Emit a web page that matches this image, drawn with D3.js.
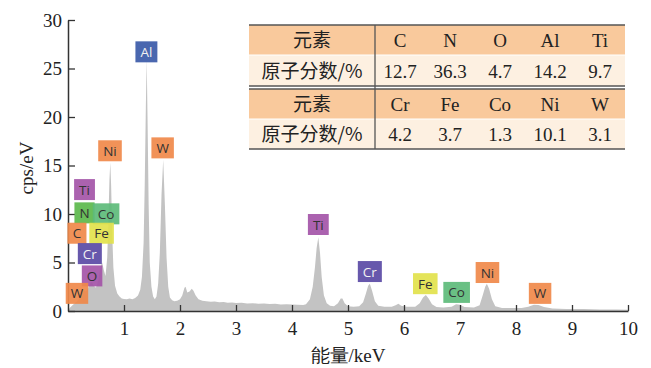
<!DOCTYPE html>
<html><head><meta charset="utf-8">
<script src="https://cdn.jsdelivr.net/npm/d3@7"></script>
<style>body{margin:0;background:#fff}svg{display:block}</style>
</head><body>
<svg id="c" width="651" height="368"></svg>
<script>
// Spectrum (energy keV, cps/eV)
const energy = [0.00,0.03,0.08,0.12,0.16,0.20,0.24,0.28,0.32,0.36,0.40,0.43,0.46,0.50,0.54,0.58,0.61,0.64,0.67,0.70,0.72,0.74,0.755,0.77,0.79,0.81,0.84,0.88,0.92,0.96,1.00,1.05,1.10,1.15,1.20,1.25,1.29,1.32,1.35,1.37,1.39,1.405,1.42,1.44,1.46,1.49,1.52,1.55,1.58,1.61,1.64,1.67,1.70,1.73,1.76,1.79,1.82,1.86,1.90,1.95,2.00,2.04,2.08,2.10,2.13,2.17,2.21,2.24,2.28,2.33,2.40,2.47,2.55,2.62,2.70,2.78,2.85,2.93,3.00,3.10,3.20,3.30,3.40,3.50,3.60,3.70,3.80,3.90,4.00,4.10,4.20,4.25,4.32,4.37,4.41,4.44,4.47,4.50,4.53,4.57,4.62,4.68,4.75,4.82,4.87,4.90,4.94,5.00,5.10,5.20,5.27,5.32,5.36,5.39,5.43,5.48,5.54,5.65,5.78,5.85,5.90,5.95,6.05,6.20,6.28,6.34,6.39,6.44,6.50,6.58,6.70,6.85,6.93,7.00,7.08,7.25,7.35,7.41,7.45,7.48,7.52,7.57,7.63,7.75,7.90,8.10,8.22,8.32,8.40,8.50,8.65,8.90,9.20,9.50,9.80,10.00];
const cps = [0.0,0.3,0.6,0.8,1.0,1.3,1.8,2.2,2.0,2.4,2.9,3.0,2.6,2.4,3.2,4.6,5.0,4.2,3.6,5.5,9.0,13.5,15.3,13.0,8.0,4.5,2.6,1.8,1.5,1.3,1.25,1.2,1.3,1.2,1.35,1.6,2.2,3.5,7.0,13.0,21.0,26.0,20.0,11.0,5.0,2.5,1.5,1.2,1.5,2.8,6.0,12.0,15.6,11.0,5.5,2.5,1.4,1.1,1.0,1.05,1.2,1.6,2.4,2.5,1.9,2.0,2.3,2.1,1.6,1.2,1.05,1.0,0.95,0.97,0.9,0.92,0.85,0.88,0.82,0.85,0.78,0.8,0.75,0.77,0.72,0.74,0.68,0.7,0.66,0.64,0.62,0.7,1.2,2.5,4.5,6.5,7.6,6.0,3.5,1.6,0.8,0.55,0.5,0.8,1.3,1.3,0.8,0.5,0.45,0.5,0.9,1.8,2.6,2.8,2.1,1.0,0.55,0.45,0.45,0.6,0.75,0.55,0.45,0.45,0.8,1.4,1.65,1.3,0.7,0.4,0.35,0.45,0.7,0.65,0.4,0.35,0.6,1.7,2.5,2.8,2.3,1.2,0.5,0.3,0.3,0.3,0.45,0.65,0.62,0.4,0.25,0.2,0.2,0.15,0.15,0.12];

// Peak labels: element, energy of box centre (keV), top of box (cps/eV), colour
const labelText  = ["Al","Ni","W","Ti","N","Co","C","Fe","Cr","O","W","Ti","Cr","Fe","Co","Ni","W"];
const labelX     = [1.40,0.75,1.69,0.295,0.295,0.68,0.16,0.60,0.39,0.43,0.16,4.47,5.39,6.38,6.94,7.49,8.43];
const labelTop   = [27.8,17.6,17.9,13.6,11.2,11.1,9.1,9.1,7.0,4.7,2.9,10.0,5.15,3.9,3.0,5.05,2.9];
const labelColor = ["#3b5aa8","#f0894a","#f0894a","#a455a8","#5cb84c","#5dbb7a","#f0894a","#e2e24c","#5a4aa5","#a455a8","#f0894a","#a455a8","#5a4aa5","#e2e24c","#5dbb7a","#f0894a","#f0894a"];

const xTicks = [1,2,3,4,5,6,7,8,9,10];
const yTicks = [0,5,10,15,20,25,30];

// Composition table
const tHead = "元素", tRow = "原子分数/%";
const elements1 = ["C","N","O","Al","Ti"];
const fraction1 = ["12.7","36.3","4.7","14.2","9.7"];
const elements2 = ["Cr","Fe","Co","Ni","W"];
const fraction2 = ["4.2","3.7","1.3","10.1","3.1"];

const svg = d3.select("#c");
const x = d3.scaleLinear().domain([0,10]).range([68,628]);
const y = d3.scaleLinear().domain([0,30]).range([311,20]);

// spectrum
const pts = energy.map((e,i)=>[e,cps[i]]);
svg.append("path").datum(pts)
  .attr("d", d3.area().x(d=>x(d[0])).y0(y(0)).y1(d=>y(d[1])))
  .attr("fill","#c3c3c3");

// axes
const serif = "'Liberation Serif','Times New Roman',serif";
const xa = svg.append("g").attr("transform","translate(0,311)")
  .call(d3.axisBottom(x).tickValues(xTicks).tickSizeInner(-6).tickSizeOuter(0).tickPadding(11).tickFormat(d3.format("d")));
const ya = svg.append("g").attr("transform","translate(68,0)")
  .call(d3.axisLeft(y).tickValues(yTicks).tickSizeInner(-7).tickSizeOuter(0).tickPadding(6).tickFormat(d3.format("d")));
[xa,ya].forEach(a=>{
  a.select(".domain").attr("stroke","#333").attr("stroke-width",1.5);
  a.selectAll(".tick line").attr("stroke","#333").attr("stroke-width",1.3);
  a.selectAll("text").attr("font-family",serif).attr("font-size",19).attr("fill","#222");
});
svg.append("text").attr("x",348).attr("y",362).attr("text-anchor","middle")
  .attr("font-family",serif).attr("font-size",19).attr("fill","#222")
  .text("能量/keV");
svg.append("text").attr("transform","translate(33,168) rotate(-90)").attr("text-anchor","middle")
  .attr("font-family",serif).attr("font-size",19).attr("fill","#222")
  .text("cps/eV");

// labels
const lg = svg.append("g");
labelText.forEach((t,i)=>{
  const g = lg.append("g");
  const tx = g.append("text").attr("font-family","'Open Sans',sans-serif").attr("font-size",13.5)
    .attr("text-anchor","middle").text(t);
  const w = Math.max(19, tx.node().getComputedTextLength()+10);
  const cx = x(labelX[i]), top = y(labelTop[i]);
  g.insert("rect","text").attr("x",cx-w/2).attr("y",top).attr("width",w).attr("height",21)
    .attr("fill",labelColor[i]).attr("opacity",0.92);
  const light = (labelColor[i]==="#3b5aa8"||labelColor[i]==="#5a4aa5");
  tx.attr("x",cx).attr("y",top+15.5).attr("fill",light?"#f2f2f2":"#333");
});

// table
const tx0 = 249, tx1 = 625, tsep = 375, colW = 50;
const rowsY = [25,55,89,119,149];
const tb = svg.append("g");
const rowFill = ["#f9c99c","#fdf0e1","#f9c99c","#fdf0e1"];
rowFill.forEach((f,i)=>{
  tb.append("rect").attr("x",tx0).attr("y",rowsY[i]).attr("width",tx1-tx0)
    .attr("height",(i===1?86:rowsY[i+1])-rowsY[i]).attr("fill",f);
});
tb.append("line").attr("x1",tx0).attr("x2",tx1).attr("y1",55).attr("y2",55).attr("stroke","#fff").attr("stroke-width",1);
tb.append("line").attr("x1",tx0).attr("x2",tx1).attr("y1",119).attr("y2",119).attr("stroke","#fff").attr("stroke-width",1);
[25,86,89,149].forEach(v=>tb.append("line").attr("x1",tx0).attr("x2",tx1).attr("y1",v).attr("y2",v)
  .attr("stroke","#555").attr("stroke-width",1.3));
tb.append("line").attr("x1",tsep).attr("x2",tsep).attr("y1",25).attr("y2",149).attr("stroke","#555").attr("stroke-width",1.3);
const rows = [[tHead,elements1],[tRow,fraction1],[tHead,elements2],[tRow,fraction2]];
rows.forEach((r,i)=>{
  const cy = (rowsY[i]+ (i===1?86:rowsY[i+1]))/2 + 7;
  tb.append("text").attr("x",(tx0+tsep)/2).attr("y",cy).attr("text-anchor","middle")
    .attr("font-family","'Noto Sans CJK SC',"+serif).attr("font-size",19).attr("fill","#222").text(r[0]);
  r[1].forEach((v,j)=>{
    tb.append("text").attr("x",tsep+colW*(j+0.5)).attr("y",cy).attr("text-anchor","middle")
      .attr("font-family",serif).attr("font-size",19).attr("fill","#222").text(v);
  });
});
</script>
</body></html>
